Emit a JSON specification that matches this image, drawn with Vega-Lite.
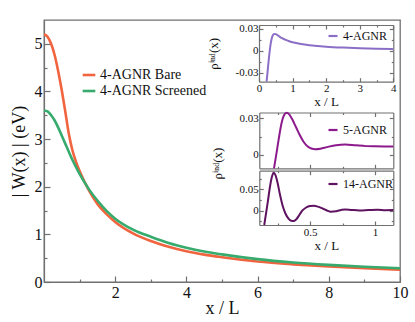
{
  "$schema": "https://vega.github.io/schema/vega-lite/v6.json",
  "width": 356,
  "height": 262,
  "autosize": {"type": "none"},
  "padding": {"left": 44, "top": 20, "right": 15, "bottom": 40},
  "background": "white",
  "config": {
    "view": {"stroke": "#707070", "strokeWidth": 1.3},
    "font": "Liberation Serif",
    "axis": {
      "grid": false,
      "domainColor": "#707070",
      "tickColor": "#707070",
      "domainWidth": 1.2,
      "tickWidth": 1.2,
      "labelFont": "Liberation Serif",
      "titleFont": "Liberation Serif",
      "titleFontWeight": "normal",
      "labelColor": "#111111",
      "titleColor": "#111111",
      "labelFlush": false,
      "labelOverlap": false
    },
    "legend": {"padding": 0, "labelFont": "Liberation Serif", "labelColor": "#111111", "symbolType": "stroke"}
  },
  "datasets": {
    "main": [
      {"x": 0, "W": 5.2, "s": "4-AGNR Bare"},
      {"x": 0.1, "W": 5.15, "s": "4-AGNR Bare"},
      {"x": 0.2, "W": 5.0, "s": "4-AGNR Bare"},
      {"x": 0.3, "W": 4.76, "s": "4-AGNR Bare"},
      {"x": 0.4, "W": 4.42, "s": "4-AGNR Bare"},
      {"x": 0.5, "W": 4.02, "s": "4-AGNR Bare"},
      {"x": 0.6, "W": 3.57, "s": "4-AGNR Bare"},
      {"x": 0.7, "W": 3.1, "s": "4-AGNR Bare"},
      {"x": 0.8, "W": 2.76, "s": "4-AGNR Bare"},
      {"x": 0.9, "W": 2.52, "s": "4-AGNR Bare"},
      {"x": 1.0, "W": 2.33, "s": "4-AGNR Bare"},
      {"x": 1.25, "W": 1.94, "s": "4-AGNR Bare"},
      {"x": 1.5, "W": 1.64, "s": "4-AGNR Bare"},
      {"x": 1.75, "W": 1.43, "s": "4-AGNR Bare"},
      {"x": 2, "W": 1.26, "s": "4-AGNR Bare"},
      {"x": 2.5, "W": 1.02, "s": "4-AGNR Bare"},
      {"x": 3, "W": 0.86, "s": "4-AGNR Bare"},
      {"x": 3.5, "W": 0.74, "s": "4-AGNR Bare"},
      {"x": 4, "W": 0.645, "s": "4-AGNR Bare"},
      {"x": 4.5, "W": 0.575, "s": "4-AGNR Bare"},
      {"x": 5, "W": 0.52, "s": "4-AGNR Bare"},
      {"x": 6, "W": 0.43, "s": "4-AGNR Bare"},
      {"x": 7, "W": 0.37, "s": "4-AGNR Bare"},
      {"x": 8, "W": 0.324, "s": "4-AGNR Bare"},
      {"x": 9, "W": 0.288, "s": "4-AGNR Bare"},
      {"x": 10, "W": 0.26, "s": "4-AGNR Bare"},
      {"x": 0, "W": 3.6, "s": "4-AGNR Screened"},
      {"x": 0.1, "W": 3.58, "s": "4-AGNR Screened"},
      {"x": 0.2, "W": 3.5, "s": "4-AGNR Screened"},
      {"x": 0.3, "W": 3.39, "s": "4-AGNR Screened"},
      {"x": 0.4, "W": 3.24, "s": "4-AGNR Screened"},
      {"x": 0.5, "W": 3.07, "s": "4-AGNR Screened"},
      {"x": 0.6, "W": 2.9, "s": "4-AGNR Screened"},
      {"x": 0.7, "W": 2.73, "s": "4-AGNR Screened"},
      {"x": 0.8, "W": 2.56, "s": "4-AGNR Screened"},
      {"x": 0.9, "W": 2.41, "s": "4-AGNR Screened"},
      {"x": 1.0, "W": 2.27, "s": "4-AGNR Screened"},
      {"x": 1.25, "W": 1.96, "s": "4-AGNR Screened"},
      {"x": 1.5, "W": 1.71, "s": "4-AGNR Screened"},
      {"x": 1.75, "W": 1.5, "s": "4-AGNR Screened"},
      {"x": 2, "W": 1.33, "s": "4-AGNR Screened"},
      {"x": 2.5, "W": 1.1, "s": "4-AGNR Screened"},
      {"x": 3, "W": 0.95, "s": "4-AGNR Screened"},
      {"x": 3.5, "W": 0.82, "s": "4-AGNR Screened"},
      {"x": 4, "W": 0.72, "s": "4-AGNR Screened"},
      {"x": 4.5, "W": 0.64, "s": "4-AGNR Screened"},
      {"x": 5, "W": 0.58, "s": "4-AGNR Screened"},
      {"x": 6, "W": 0.48, "s": "4-AGNR Screened"},
      {"x": 7, "W": 0.41, "s": "4-AGNR Screened"},
      {"x": 8, "W": 0.36, "s": "4-AGNR Screened"},
      {"x": 9, "W": 0.32, "s": "4-AGNR Screened"},
      {"x": 10, "W": 0.29, "s": "4-AGNR Screened"}
    ],
    "ins1": [
      {"x": 0.225, "rho": -0.042, "s": "4-AGNR"},
      {"x": 0.25, "rho": -0.031, "s": "4-AGNR"},
      {"x": 0.275, "rho": -0.019, "s": "4-AGNR"},
      {"x": 0.3, "rho": -0.008, "s": "4-AGNR"},
      {"x": 0.325, "rho": 0.002, "s": "4-AGNR"},
      {"x": 0.35, "rho": 0.01, "s": "4-AGNR"},
      {"x": 0.375, "rho": 0.016, "s": "4-AGNR"},
      {"x": 0.4, "rho": 0.0198, "s": "4-AGNR"},
      {"x": 0.45, "rho": 0.0228, "s": "4-AGNR"},
      {"x": 0.5, "rho": 0.0226, "s": "4-AGNR"},
      {"x": 0.55, "rho": 0.0212, "s": "4-AGNR"},
      {"x": 0.6, "rho": 0.0196, "s": "4-AGNR"},
      {"x": 0.7, "rho": 0.0168, "s": "4-AGNR"},
      {"x": 0.8, "rho": 0.0147, "s": "4-AGNR"},
      {"x": 0.9, "rho": 0.0129, "s": "4-AGNR"},
      {"x": 1.0, "rho": 0.0115, "s": "4-AGNR"},
      {"x": 1.25, "rho": 0.0091, "s": "4-AGNR"},
      {"x": 1.5, "rho": 0.0075, "s": "4-AGNR"},
      {"x": 1.75, "rho": 0.0064, "s": "4-AGNR"},
      {"x": 2, "rho": 0.0055, "s": "4-AGNR"},
      {"x": 2.5, "rho": 0.0043, "s": "4-AGNR"},
      {"x": 3, "rho": 0.0035, "s": "4-AGNR"},
      {"x": 3.5, "rho": 0.0028, "s": "4-AGNR"},
      {"x": 4, "rho": 0.0022, "s": "4-AGNR"}
    ],
    "ins2": [
      {"x": 0.223, "rho": -0.011, "s": "5-AGNR"},
      {"x": 0.24, "rho": 0.0, "s": "5-AGNR"},
      {"x": 0.26, "rho": 0.0135, "s": "5-AGNR"},
      {"x": 0.28, "rho": 0.0255, "s": "5-AGNR"},
      {"x": 0.3, "rho": 0.0325, "s": "5-AGNR"},
      {"x": 0.32, "rho": 0.0345, "s": "5-AGNR"},
      {"x": 0.34, "rho": 0.0332, "s": "5-AGNR"},
      {"x": 0.36, "rho": 0.0298, "s": "5-AGNR"},
      {"x": 0.38, "rho": 0.0255, "s": "5-AGNR"},
      {"x": 0.4, "rho": 0.021, "s": "5-AGNR"},
      {"x": 0.42, "rho": 0.0165, "s": "5-AGNR"},
      {"x": 0.45, "rho": 0.0108, "s": "5-AGNR"},
      {"x": 0.48, "rho": 0.0071, "s": "5-AGNR"},
      {"x": 0.51, "rho": 0.0052, "s": "5-AGNR"},
      {"x": 0.54, "rho": 0.0047, "s": "5-AGNR"},
      {"x": 0.58, "rho": 0.0051, "s": "5-AGNR"},
      {"x": 0.63, "rho": 0.0064, "s": "5-AGNR"},
      {"x": 0.7, "rho": 0.008, "s": "5-AGNR"},
      {"x": 0.77, "rho": 0.0086, "s": "5-AGNR"},
      {"x": 0.85, "rho": 0.0079, "s": "5-AGNR"},
      {"x": 0.93, "rho": 0.0072, "s": "5-AGNR"},
      {"x": 1.0, "rho": 0.007, "s": "5-AGNR"},
      {"x": 1.07, "rho": 0.0069, "s": "5-AGNR"},
      {"x": 1.14, "rho": 0.0068, "s": "5-AGNR"}
    ],
    "ins3": [
      {"x": 0.148, "rho": -0.0335, "s": "14-AGNR"},
      {"x": 0.16, "rho": -0.01, "s": "14-AGNR"},
      {"x": 0.175, "rho": 0.02, "s": "14-AGNR"},
      {"x": 0.19, "rho": 0.052, "s": "14-AGNR"},
      {"x": 0.205, "rho": 0.077, "s": "14-AGNR"},
      {"x": 0.22, "rho": 0.0888, "s": "14-AGNR"},
      {"x": 0.235, "rho": 0.083, "s": "14-AGNR"},
      {"x": 0.25, "rho": 0.066, "s": "14-AGNR"},
      {"x": 0.27, "rho": 0.036, "s": "14-AGNR"},
      {"x": 0.29, "rho": 0.011, "s": "14-AGNR"},
      {"x": 0.31, "rho": -0.006, "s": "14-AGNR"},
      {"x": 0.33, "rho": -0.017, "s": "14-AGNR"},
      {"x": 0.355, "rho": -0.0235, "s": "14-AGNR"},
      {"x": 0.375, "rho": -0.024, "s": "14-AGNR"},
      {"x": 0.395, "rho": -0.02, "s": "14-AGNR"},
      {"x": 0.42, "rho": -0.009, "s": "14-AGNR"},
      {"x": 0.44, "rho": 0.0, "s": "14-AGNR"},
      {"x": 0.47, "rho": 0.0075, "s": "14-AGNR"},
      {"x": 0.5, "rho": 0.011, "s": "14-AGNR"},
      {"x": 0.53, "rho": 0.0118, "s": "14-AGNR"},
      {"x": 0.56, "rho": 0.0095, "s": "14-AGNR"},
      {"x": 0.6, "rho": 0.0045, "s": "14-AGNR"},
      {"x": 0.63, "rho": 0.0005, "s": "14-AGNR"},
      {"x": 0.66, "rho": -0.0022, "s": "14-AGNR"},
      {"x": 0.7, "rho": -0.0012, "s": "14-AGNR"},
      {"x": 0.74, "rho": 0.0018, "s": "14-AGNR"},
      {"x": 0.77, "rho": 0.003, "s": "14-AGNR"},
      {"x": 0.82, "rho": 0.0017, "s": "14-AGNR"},
      {"x": 0.88, "rho": 0.0006, "s": "14-AGNR"},
      {"x": 0.95, "rho": 0.0014, "s": "14-AGNR"},
      {"x": 1.02, "rho": 0.002, "s": "14-AGNR"},
      {"x": 1.08, "rho": 0.0012, "s": "14-AGNR"},
      {"x": 1.14, "rho": 0.0015, "s": "14-AGNR"}
    ]
  },
  "layer": [
    {
      "data": {"name": "main"},
      "mark": {"type": "line", "strokeWidth": 2.6, "interpolate": "monotone", "clip": true},
      "encoding": {
        "x": {"field": "x", "type": "quantitative",
          "scale": {"domain": [0, 10], "nice": false, "zero": false},
          "axis": {"orient": "bottom", "values": [1, 2, 3, 4, 5, 6, 7, 8, 9, 10],
            "labelExpr": "datum.value % 2 == 0 ? format(datum.value, 'd') : ''",
            "tickSize": {"condition": {"test": "datum.value % 2 == 0", "value": -6}, "value": -3},
            "labelPadding": 8, "labelFontSize": 16, "title": "x / L", "titleFontSize": 18, "titlePadding": -4}},
        "y": {"field": "W", "type": "quantitative",
          "scale": {"domain": [0, 5.5], "nice": false, "zero": false},
          "axis": {"orient": "left", "values": [0, 0.5, 1, 1.5, 2, 2.5, 3, 3.5, 4, 4.5, 5],
            "labelExpr": "datum.value % 1 == 0 ? format(datum.value, 'd') : ''",
            "tickSize": {"condition": {"test": "datum.value % 1 == 0", "value": -6}, "value": -3},
            "labelPadding": 8, "labelFontSize": 16, "title": "| W(x) | (eV)", "titleFontSize": 18, "titlePadding": 6}},
        "color": {"field": "s", "type": "nominal",
          "scale": {"domain": ["4-AGNR Bare", "4-AGNR Screened"], "range": ["#f0643f", "#36ab6d"]},
          "legend": {"orient": "none", "legendX": 37, "legendY": 47, "title": null,
            "symbolSize": 160, "symbolStrokeWidth": 2.6, "labelFontSize": 14, "labelOffset": 3, "rowPadding": 1}}
      }
    },
    {
      "data": {"name": "ins1"},
      "mark": {"type": "line", "strokeWidth": 2, "interpolate": "monotone"},
      "encoding": {
        "x": {"field": "x", "type": "quantitative",
          "scale": {"domain": [0, 4], "range": [215, 349.3], "nice": false, "zero": false},
          "axis": {"orient": "bottom", "offset": -200.3, "values": [0, 0.5, 1, 1.5, 2, 2.5, 3, 3.5, 4],
            "labelExpr": "datum.value % 1 == 0 ? format(datum.value, 'd') : ''",
            "tickSize": {"condition": {"test": "datum.value % 1 == 0", "value": -4}, "value": -2},
            "labelPadding": 5, "labelFontSize": 11, "title": "x / L", "titleFontSize": 13, "titlePadding": 0}},
        "y": {"field": "rho", "type": "quantitative",
          "scale": {"domain": [-0.042, 0.035], "range": [61.7, 5], "nice": false, "zero": false},
          "axis": {"orient": "left", "offset": -215, "values": [-0.03, -0.015, 0, 0.015, 0.03],
            "labelExpr": "datum.value > 0.02 ? '0.03' : (datum.value < -0.02 ? '-0.03' : (abs(datum.value) < 0.001 ? '0' : ''))",
            "tickSize": {"condition": {"test": "abs(datum.value) < 0.001 || abs(datum.value) > 0.02", "value": -4}, "value": -2},
            "labelPadding": 5, "labelFontSize": 11, "title": "ρⁱⁿᵈ(x)", "titleFontSize": 13, "titlePadding": 15}},
        "color": {"field": "s", "type": "nominal",
          "scale": {"domain": ["4-AGNR"], "range": ["#8b6fc6"]},
          "legend": {"orient": "none", "legendX": 283, "legendY": 10, "title": null,
            "symbolSize": 81, "symbolStrokeWidth": 2.2, "labelFontSize": 12, "labelOffset": 4}}
      }
    },
    {
      "data": {"name": "ins1"},
      "mark": {"type": "line", "opacity": 0},
      "encoding": {
        "x": {"field": "x", "type": "quantitative",
          "scale": {"domain": [0, 4], "range": [215, 349.3], "nice": false, "zero": false},
          "axis": {"orient": "top", "offset": -5, "values": [0, 0.5, 1, 1.5, 2, 2.5, 3, 3.5, 4], "labels": false, "title": null,
            "tickSize": {"condition": {"test": "datum.value % 1 == 0", "value": -4}, "value": -2}}},
        "y": {"field": "rho", "type": "quantitative",
          "scale": {"domain": [-0.042, 0.035], "range": [61.7, 5], "nice": false, "zero": false},
          "axis": {"orient": "right", "offset": -6.7, "values": [-0.03, -0.015, 0, 0.015, 0.03], "labels": false, "title": null,
            "tickSize": {"condition": {"test": "abs(datum.value) < 0.001 || abs(datum.value) > 0.02", "value": -4}, "value": -2}}}
      }
    },
    {
      "data": {"name": "ins2"},
      "mark": {"type": "line", "strokeWidth": 2, "interpolate": "monotone"},
      "encoding": {
        "x": {"field": "x", "type": "quantitative",
          "scale": {"domain": [0.11, 1.14], "range": [215.3, 349.3], "nice": false, "zero": false},
          "axis": {"orient": "bottom", "offset": -113.7, "values": [0.25, 0.5, 0.75, 1], "labels": false, "title": null,
            "tickSize": {"condition": {"test": "datum.value == 0.5 || datum.value == 1", "value": -4}, "value": -2}}},
        "y": {"field": "rho", "type": "quantitative",
          "scale": {"domain": [-0.011, 0.0348], "range": [148.3, 92.5], "nice": false, "zero": false},
          "axis": {"orient": "left", "offset": -215.3, "values": [0, 0.015, 0.03],
            "labelExpr": "datum.value > 0.02 ? '0.03' : (abs(datum.value) < 0.001 ? '0' : '')",
            "tickSize": {"condition": {"test": "abs(datum.value) < 0.001 || abs(datum.value) > 0.02", "value": -4}, "value": -2},
            "labelPadding": 5, "labelFontSize": 11, "title": null}},
        "color": {"field": "s", "type": "nominal",
          "scale": {"domain": ["5-AGNR"], "range": ["#8c1a8c"]},
          "legend": {"orient": "none", "legendX": 283, "legendY": 104, "title": null,
            "symbolSize": 81, "symbolStrokeWidth": 2.2, "labelFontSize": 12, "labelOffset": 4}}
      }
    },
    {
      "data": {"name": "ins2"},
      "mark": {"type": "line", "opacity": 0},
      "encoding": {
        "x": {"field": "x", "type": "quantitative",
          "scale": {"domain": [0.11, 1.14], "range": [215.3, 349.3], "nice": false, "zero": false},
          "axis": {"orient": "top", "offset": -92.5, "values": [0.25, 0.5, 0.75, 1], "labels": false, "title": null,
            "tickSize": {"condition": {"test": "datum.value == 0.5 || datum.value == 1", "value": -4}, "value": -2}}},
        "y": {"field": "rho", "type": "quantitative",
          "scale": {"domain": [-0.011, 0.0348], "range": [148.3, 92.5], "nice": false, "zero": false},
          "axis": {"orient": "right", "offset": -6.7, "values": [0, 0.015, 0.03], "labels": false, "title": null,
            "tickSize": {"condition": {"test": "abs(datum.value) < 0.001 || abs(datum.value) > 0.02", "value": -4}, "value": -2}}}
      }
    },
    {
      "data": {"name": "ins3"},
      "mark": {"type": "line", "strokeWidth": 2, "interpolate": "monotone"},
      "encoding": {
        "x": {"field": "x", "type": "quantitative",
          "scale": {"domain": [0.11, 1.14], "range": [215.3, 349.3], "nice": false, "zero": false},
          "axis": {"orient": "bottom", "offset": -57, "values": [0.25, 0.5, 0.75, 1],
            "labelExpr": "datum.value == 0.5 ? '0.5' : (datum.value == 1 ? '1' : '')",
            "tickSize": {"condition": {"test": "datum.value == 0.5 || datum.value == 1", "value": -4}, "value": -2},
            "labelPadding": 5, "labelFontSize": 11, "title": "x / L", "titleFontSize": 13, "titlePadding": 0}},
        "y": {"field": "rho", "type": "quantitative",
          "scale": {"domain": [-0.0335, 0.0937], "range": [205, 150.7], "nice": false, "zero": false},
          "axis": {"orient": "left", "offset": -215.3, "values": [-0.025, 0, 0.025, 0.05, 0.075],
            "labelExpr": "abs(datum.value - 0.05) < 0.001 ? '0.05' : (abs(datum.value) < 0.001 ? '0' : '')",
            "tickSize": {"condition": {"test": "abs(datum.value) < 0.001 || abs(datum.value - 0.05) < 0.001", "value": -4}, "value": -2},
            "labelPadding": 5, "labelFontSize": 11, "title": "ρⁱⁿᵈ(x)", "titleFontSize": 13, "titlePadding": 15, "titleY": 143}},
        "color": {"field": "s", "type": "nominal",
          "scale": {"domain": ["14-AGNR"], "range": ["#5e1260"]},
          "legend": {"orient": "none", "legendX": 283, "legendY": 158, "title": null,
            "symbolSize": 81, "symbolStrokeWidth": 2.2, "labelFontSize": 12, "labelOffset": 4}}
      }
    },
    {
      "data": {"name": "ins3"},
      "mark": {"type": "line", "opacity": 0},
      "encoding": {
        "x": {"field": "x", "type": "quantitative",
          "scale": {"domain": [0.11, 1.14], "range": [215.3, 349.3], "nice": false, "zero": false},
          "axis": {"orient": "top", "offset": -150.7, "values": [0.25, 0.5, 0.75, 1], "labels": false, "title": null,
            "tickSize": {"condition": {"test": "datum.value == 0.5 || datum.value == 1", "value": -4}, "value": -2}}},
        "y": {"field": "rho", "type": "quantitative",
          "scale": {"domain": [-0.0335, 0.0937], "range": [205, 150.7], "nice": false, "zero": false},
          "axis": {"orient": "right", "offset": -6.7, "values": [-0.025, 0, 0.025, 0.05, 0.075], "labels": false, "title": null,
            "tickSize": {"condition": {"test": "abs(datum.value) < 0.001 || abs(datum.value - 0.05) < 0.001", "value": -4}, "value": -2}}}
      }
    }
  ],
  "resolve": {"scale": {"x": "independent", "y": "independent", "color": "independent"}}
}
